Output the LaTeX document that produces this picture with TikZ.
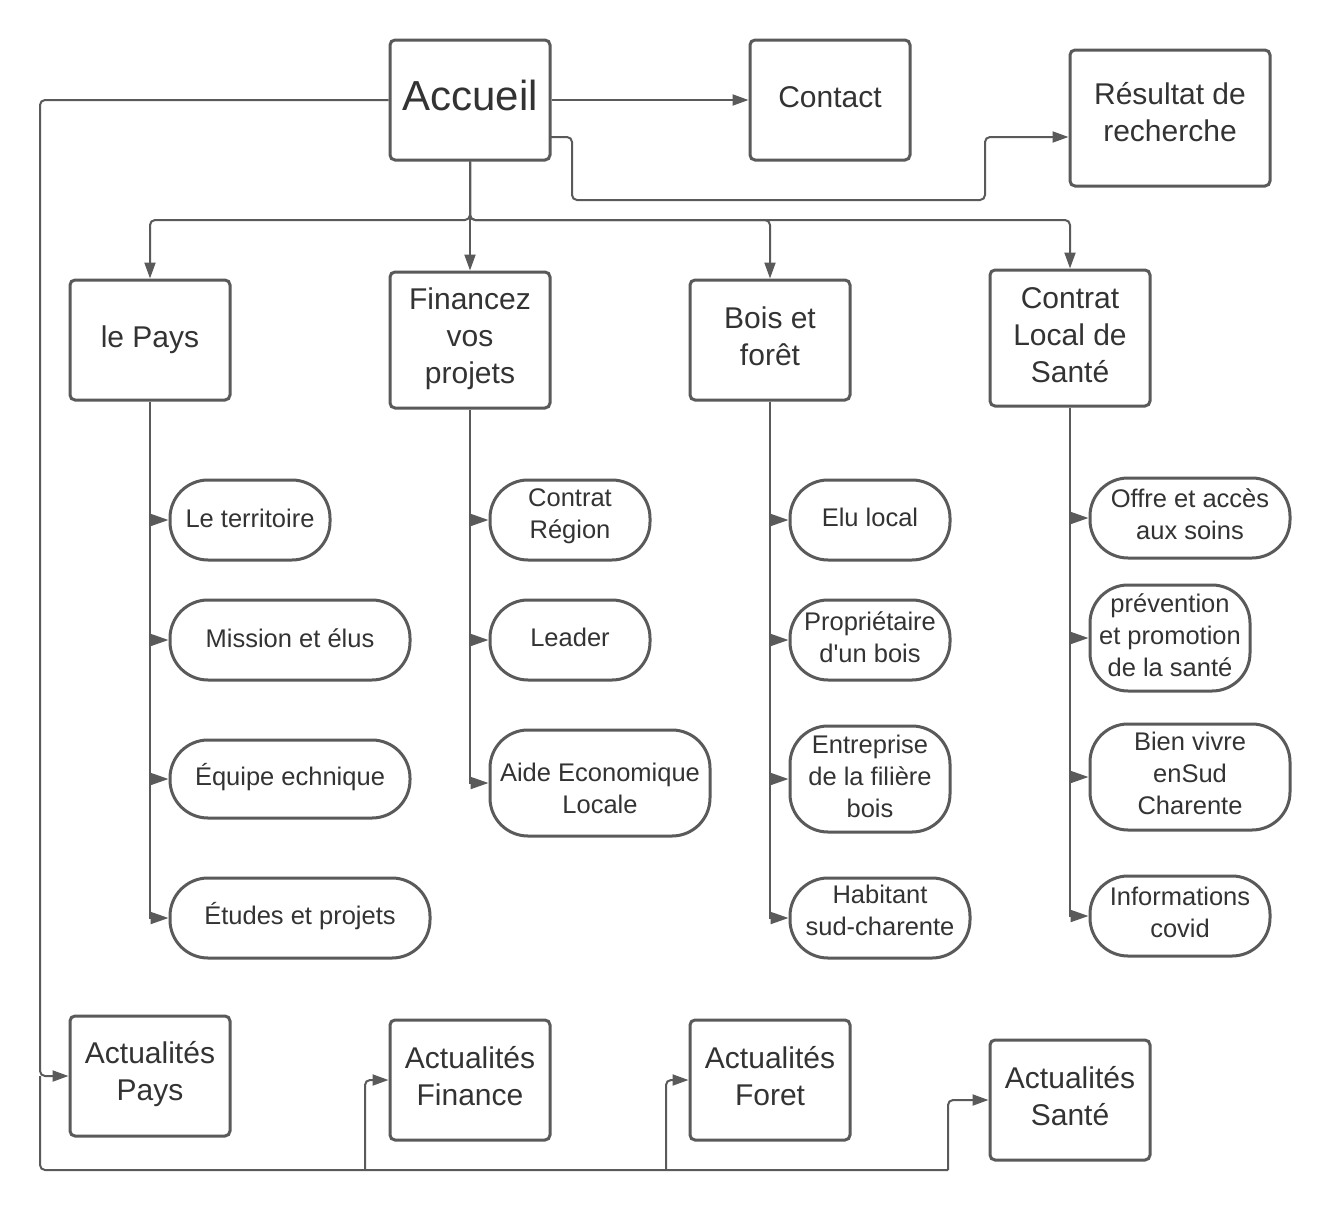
\documentclass[tikz,border=0pt]{standalone}
\usepackage{fontspec}
\setmainfont{Liberation Sans}[Ligatures=TeXOff]
\usetikzlibrary{arrows.meta}
\definecolor{ln}{HTML}{5A5A5A}
\definecolor{tx}{HTML}{333333}
\newcommand{\mltext}[2][0pt]{\raisebox{#1}[\height][\depth]{\begin{tabular}{@{}c@{}}#2\end{tabular}}}
\begin{document}
\begin{tikzpicture}[x=1pt,y=-1pt,
 box/.style={draw=ln, line width=3pt, rounded corners=5pt, text=tx, inner sep=0pt, font=\fontsize{30}{37}\selectfont, minimum width=160pt},
 pill/.style={draw=ln, line width=3pt, rounded corners=38pt, text=tx, inner sep=0pt, font=\fontsize{25.5}{32}\selectfont, minimum height=80pt},
 conn/.style={draw=ln, line width=2pt, rounded corners=5pt},
 arr/.style={conn, -{Triangle[length=16pt,width=11pt]}},
 carr/.style={conn, -{Triangle[length=18pt,width=12pt]}}]
\useasboundingbox[fill=white] (0,0) rectangle (1330,1210);

% top level
\node[box, minimum height=120pt, font=\fontsize{42}{50}\selectfont] (acc) at (470,100) {\mltext{Accueil}};
\node[box, minimum height=120pt] (con) at (830,100) {\mltext{Contact}};
\node[box, minimum width=200pt, minimum height=136pt] (res) at (1170,118) {\mltext[2.5pt]{Résultat de\\recherche}};

% second level
\node[box, minimum height=120pt] (pays) at (150,340) {\mltext{le Pays}};
\node[box, minimum height=136pt] (fin) at (470,340) {\mltext[1pt]{Financez\\vos\\projets}};
\node[box, minimum height=120pt] (bois) at (770,340) {\mltext{Bois et\\forêt}};
\node[box, minimum height=136pt] (cls) at (1070,338) {\mltext{Contrat\\Local de\\Santé}};

% children Pays
\node[pill, minimum width=160pt] (p1) at (250,520) {\mltext[-1pt]{Le territoire}};
\node[pill, minimum width=240pt] (p2) at (290,640) {\mltext[-1pt]{Mission et élus}};
\node[pill, minimum width=240pt, minimum height=78pt] (p3) at (290,779) {\mltext{Équipe echnique}};
\node[pill, minimum width=260pt] (p4) at (300,918) {\mltext{Études et projets}};

% children Finance
\node[pill, minimum width=160pt] (f1) at (570,520) {\mltext[4pt]{Contrat\\Région}};
\node[pill, minimum width=160pt] (f2) at (570,640) {\mltext{Leader}};
\node[pill, minimum width=220pt, minimum height=106pt] (f3) at (600,783) {\mltext[-8pt]{Aide Economique\\Locale}};

% children Bois
\node[pill, minimum width=160pt] (b1) at (870,520) {\mltext{Elu local}};
\node[pill, minimum width=160pt] (b2) at (870,640) {\mltext{Propriétaire\\d'un bois}};
\node[pill, minimum width=160pt, minimum height=106pt] (b3) at (870,779) {\mltext{Entreprise\\de la filière\\bois}};
\node[pill, minimum width=180pt] (b4) at (880,918) {\mltext[5pt]{Habitant\\sud-charente}};

% children Santé
\node[pill, minimum width=200pt] (s1) at (1190,518) {\mltext[1pt]{Offre et accès\\aux soins}};
\node[pill, minimum width=160pt, minimum height=106pt] (s2) at (1170,638) {\mltext{prévention\\et promotion\\de la santé}};
\node[pill, minimum width=200pt, minimum height=106pt] (s3) at (1190,777) {\mltext[1pt]{Bien vivre\\enSud\\Charente}};
\node[pill, minimum width=180pt] (s4) at (1180,916) {\mltext[1pt]{Informations\\covid}};

% bottom level
\node[box, minimum height=120pt] (ap) at (150,1076) {\mltext[1pt]{Actualités\\Pays}};
\node[box, minimum height=120pt] (af) at (470,1080) {\mltext[0.5pt]{Actualités\\Finance}};
\node[box, minimum height=120pt] (afo) at (770,1080) {\mltext[0.5pt]{Actualités\\Foret}};
\node[box, minimum height=120pt] (as) at (1070,1100) {\mltext[0.5pt]{Actualités\\Santé}};

% top connectors
\draw[arr] (acc.east) -- (con.west);
\coordinate (r0) at (550,137);
\draw[arr] (r0) -- (572,137) -- (572,200) -- (985,200) -- (985,137) -- (res.west |- r0);

\coordinate (hub) at (470,220);
\draw[arr] (acc.south) -- (hub) -| (pays.north);
\draw[arr] (acc.south) -- (fin.north);
\draw[arr] (acc.south) -- (hub) -| (bois.north);
\draw[arr] (acc.south) -- (hub) -| (cls.north);

% child connectors
\foreach \c in {p1,p2,p3,p4} \draw[carr, rounded corners=0pt] (pays.south) |- (\c.west);
\foreach \c in {f1,f2,f3} \draw[carr, rounded corners=0pt] (fin.south) |- (\c.west);
\foreach \c in {b1,b2,b3,b4} \draw[carr, rounded corners=0pt] (bois.south) |- (\c.west);
\foreach \c in {s1,s2,s3,s4} \draw[carr, rounded corners=0pt] (cls.south) |- (\c.west);

% news connectors
\coordinate (bl) at (40,1170);
\coordinate (b1x) at (365,1170);
\coordinate (b2x) at (666,1170);
\coordinate (b3x) at (948,1170);
\draw[arr] (acc.west) -| (40,1076) -- (ap.west);
\draw[conn] (40,1076) -- (bl) -- (b3x);
\draw[arr] (b1x) |- (af.west);
\draw[arr] (b2x) |- (afo.west);
\draw[arr] (b3x) |- (as.west);
\end{tikzpicture}
\end{document}
